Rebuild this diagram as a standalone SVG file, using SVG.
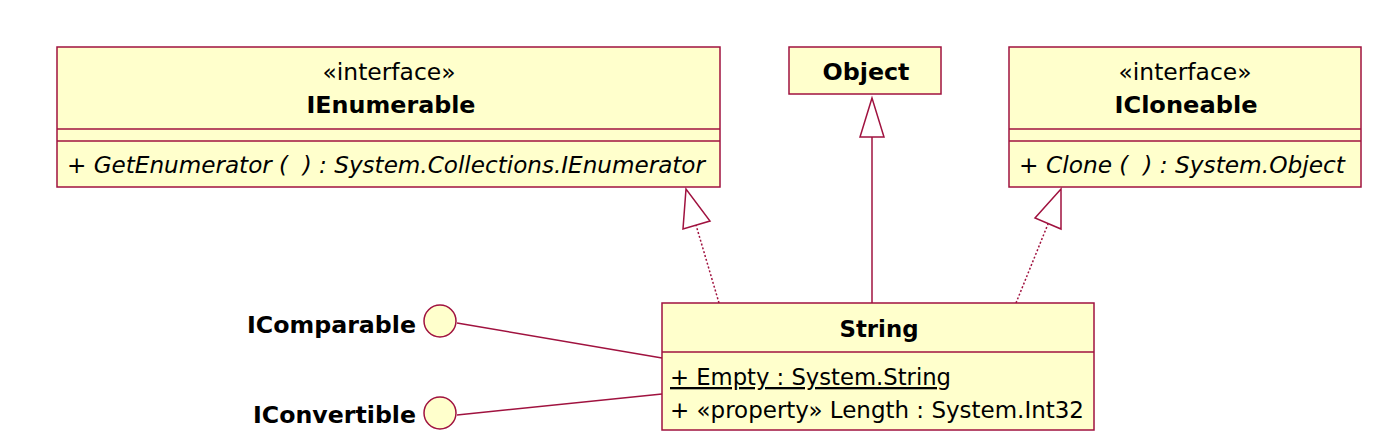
<svg xmlns="http://www.w3.org/2000/svg" width="1392" height="446" viewBox="0 0 1392 446">
<style>
.box{fill:#ffffcc;stroke:#a0123f;stroke-width:1.5}
.ln{stroke:#a0123f;stroke-width:1.5;fill:none}
.dot{stroke:#a0123f;stroke-width:1.5;fill:none;stroke-dasharray:2 2}
.head{fill:#ffffff;stroke:#a0123f;stroke-width:1.5}
text{font-family:"DejaVu Sans Condensed","DejaVu Sans",sans-serif;font-size:23px;fill:#000}
.b{font-weight:bold}
.i{font-style:italic}
.c{text-anchor:middle}
.r{text-anchor:end}
</style>
<rect width="1392" height="446" fill="#ffffff"/>
<g id="connectors">
<line class="dot" x1="719" y1="303" x2="696" y2="225"/>
<polygon class="head" points="686,189 683,229 710,221"/>
<line class="ln" x1="872" y1="137" x2="872" y2="304"/>
<polygon class="head" points="872,98 860,137 884,137"/>
<line class="dot" x1="1016" y1="303" x2="1048" y2="224"/>
<polygon class="head" points="1061,189 1035,218 1061,229"/>
<line class="ln" x1="457" y1="323" x2="662" y2="358"/>
<line class="ln" x1="457" y1="415" x2="662" y2="394"/>
</g>
<g id="IEnumerable">
<rect class="box" x="57" y="47" width="663" height="140"/>
<line class="ln" x1="57" y1="129" x2="720" y2="129"/>
<line class="ln" x1="57" y1="141" x2="720" y2="141"/>
<text class="c" x="389" y="80" textLength="133" lengthAdjust="spacingAndGlyphs">«interface»</text>
<text class="c b" x="391" y="113" textLength="169" lengthAdjust="spacingAndGlyphs">IEnumerable</text>
<text class="i" x="67" y="173" textLength="638" lengthAdjust="spacingAndGlyphs">+ GetEnumerator (&#160; ) : System.Collections.IEnumerator</text>
</g>
<g id="Object">
<rect class="box" x="789" y="47" width="152" height="47"/>
<text class="c b" x="866" y="80" textLength="87" lengthAdjust="spacingAndGlyphs">Object</text>
</g>
<g id="ICloneable">
<rect class="box" x="1009" y="47" width="352" height="140"/>
<line class="ln" x1="1009" y1="129" x2="1361" y2="129"/>
<line class="ln" x1="1009" y1="141" x2="1361" y2="141"/>
<text class="c" x="1185" y="80" textLength="133" lengthAdjust="spacingAndGlyphs">«interface»</text>
<text class="c b" x="1186" y="113" textLength="143" lengthAdjust="spacingAndGlyphs">ICloneable</text>
<text class="i" x="1019" y="173" textLength="326" lengthAdjust="spacingAndGlyphs">+ Clone (&#160; ) : System.Object</text>
</g>
<g id="String">
<rect class="box" x="662" y="303" width="432" height="127"/>
<line class="ln" x1="662" y1="352" x2="1094" y2="352"/>
<text class="c b" x="879" y="337" textLength="79" lengthAdjust="spacingAndGlyphs">String</text>
<text x="670" y="385" text-decoration="underline" textLength="281" lengthAdjust="spacingAndGlyphs">+ Empty : System.String</text>
<text x="670" y="418" textLength="414" lengthAdjust="spacingAndGlyphs">+ «property» Length : System.Int32</text>
</g>
<g id="IComparable">
<circle class="box" cx="440" cy="321" r="16"/>
<text class="b r" x="416" y="333" textLength="169" lengthAdjust="spacingAndGlyphs">IComparable</text>
</g>
<g id="IConvertible">
<circle class="box" cx="440" cy="413" r="16"/>
<text class="b r" x="416" y="423" textLength="163" lengthAdjust="spacingAndGlyphs">IConvertible</text>
</g>
</svg>
